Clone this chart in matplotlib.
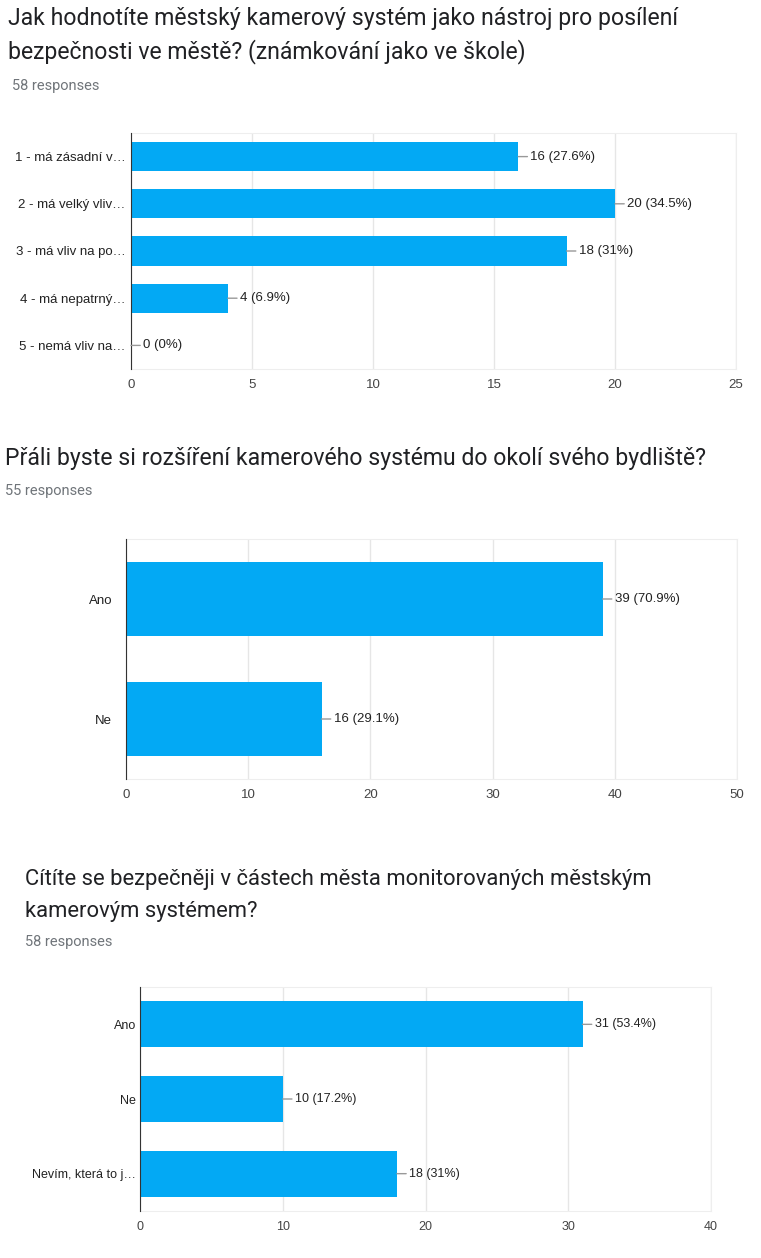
import matplotlib
matplotlib.use("Agg")
import matplotlib.pyplot as plt

# ---- data ----
q1_title = ["Jak hodnotíte městský kamerový systém jako nástroj pro posílení",
            "bezpečnosti ve městě? (známkování jako ve škole)"]
q1_responses = 58
q1_labels = ["1 - má zásadní v…", "2 - má velký vliv…", "3 - má vliv na po…",
             "4 - má nepatrný…", "5 - nemá vliv na…"]
q1_counts = [16, 20, 18, 4, 0]
q1_ticks = [0, 5, 10, 15, 20, 25]

q2_title = ["Přáli byste si rozšíření kamerového systému do okolí svého bydliště?"]
q2_responses = 55
q2_labels = ["Ano", "Ne"]
q2_counts = [39, 16]
q2_ticks = [0, 10, 20, 30, 40, 50]

q3_title = ["Cítíte se bezpečněji v částech města monitorovaných městským",
            "kamerovým systémem?"]
q3_responses = 58
q3_labels = ["Ano", "Ne", "Nevím, která to j…"]
q3_counts = [31, 10, 18]
q3_ticks = [0, 10, 20, 30, 40]

BAR = "#03a9f4"
W, H = 761, 1258

fig = plt.figure(figsize=(W / 100, H / 100), dpi=100)
fig.patch.set_facecolor("white")


def fy(py):
    return 1 - py / H


def header(lines, n, x, y0, step, y_resp, fs=16.6, rx=0):
    for i, line in enumerate(lines):
        fig.text(x / W, fy(y0 + i * step), line, fontsize=fs, family="Roboto",
                 color="#202124", va="center", ha="left")
    fig.text((x + rx) / W, fy(y_resp), f"{n} responses", fontsize=10.5,
             family="Roboto", color="#70757a", va="center", ha="left")


def panel(rect, labels, counts, ticks, n, ypad, fs=9.5):
    l, t, r, b = rect
    ax = fig.add_axes([l / W, 1 - b / H, (r - l) / W, (b - t) / H])
    ypos = list(range(len(labels)))
    ax.barh(ypos, counts, height=0.62, color=BAR, zorder=3)
    ax.set_ylim(len(labels) - 0.5, -0.5)
    ax.set_xlim(ticks[0], ticks[-1])
    ax.set_xticks(ticks)
    ax.set_yticks(ypos)
    ax.set_yticklabels(labels, family="Liberation Sans", fontsize=fs, color="#222222")
    ax.set_xticklabels([str(v) for v in ticks], family="Liberation Sans",
                       fontsize=fs, color="#444444")
    ax.tick_params(axis="both", length=0)
    ax.tick_params(axis="x", pad=7)
    ax.tick_params(axis="y", pad=ypad)
    ax.grid(axis="x", color="#e6e6e6", linewidth=1, zorder=0)
    for s in ("top", "right", "bottom"):
        ax.spines[s].set_color("#eeeeee")
    ax.spines["left"].set_color("#333333")
    ax.spines["left"].set_zorder(4)
    # value labels with short leader lines
    for i, v in enumerate(counts):
        pct = round(v / n * 100, 1)
        txt = f"{v} ({pct:g}%)"
        ax.annotate(txt, xy=(v, i), xytext=(12, 0), textcoords="offset pixels",
                    va="center", ha="left", fontsize=fs, family="Liberation Sans",
                    color="#222222", zorder=5,
                    arrowprops=dict(arrowstyle="-", color="#999999", lw=1,
                                    shrinkA=0, shrinkB=0))
    return ax


header(q1_title, q1_responses, 8, 19, 33, 86, rx=4)
panel((131, 133, 736, 369), q1_labels, q1_counts, q1_ticks, q1_responses, 4)

header(q2_title, q2_responses, 5, 458, 33, 491)
panel((126, 539, 737, 779), q2_labels, q2_counts, q2_ticks, q2_responses, 10, fs=9.5)

header(q3_title, q3_responses, 25, 880, 32, 942, fs=15.8)
panel((140, 987, 711, 1211), q3_labels, q3_counts, q3_ticks, q3_responses, 3, fs=9)

fig.savefig("out.png", dpi=100, facecolor="white")
